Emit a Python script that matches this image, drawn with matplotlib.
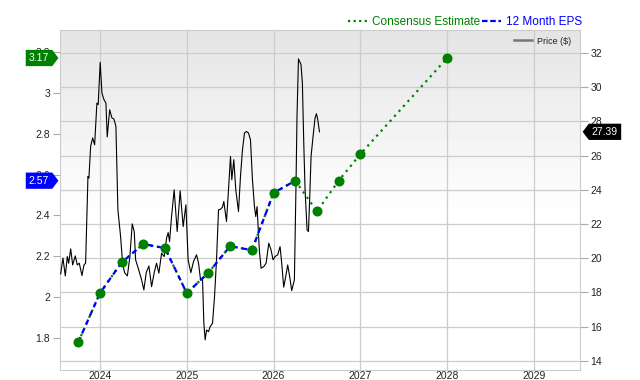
import matplotlib
matplotlib.use("Agg")
import matplotlib.pyplot as plt
import numpy as np
from matplotlib.path import Path
from matplotlib.lines import Line2D

plt.rcParams['font.family'] = ['Liberation Sans', 'DejaVu Sans']

# ---------------- data ----------------
price_t = [2023.548, 2023.574, 2023.601, 2023.624, 2023.640, 2023.663, 2023.686, 2023.716,
           2023.739, 2023.762, 2023.793, 2023.816, 2023.835, 2023.862, 2023.873, 2023.893,
           2023.916, 2023.939, 2023.965, 2023.980, 2024.003, 2024.023, 2024.046, 2024.069,
           2024.084, 2024.112, 2024.138, 2024.161, 2024.184, 2024.207, 2024.238, 2024.261,
           2024.284, 2024.316, 2024.345, 2024.372, 2024.395, 2024.411, 2024.441, 2024.480,
           2024.506, 2024.533, 2024.564, 2024.595, 2024.625, 2024.652, 2024.679, 2024.710,
           2024.740, 2024.768, 2024.786, 2024.802, 2024.825, 2024.855, 2024.890, 2024.924,
           2024.959, 2024.990, 2025.016, 2025.047, 2025.078, 2025.113, 2025.136, 2025.159,
           2025.182, 2025.197, 2025.212, 2025.228, 2025.251, 2025.269, 2025.297, 2025.320,
           2025.343, 2025.366, 2025.389, 2025.412, 2025.427, 2025.458, 2025.481, 2025.504,
           2025.519, 2025.542, 2025.565, 2025.596, 2025.619, 2025.642, 2025.665, 2025.688,
           2025.711, 2025.734, 2025.757, 2025.780, 2025.795, 2025.810, 2025.836, 2025.856,
           2025.887, 2025.914, 2025.945, 2025.971, 2025.994, 2026.017, 2026.048, 2026.075,
           2026.094, 2026.117, 2026.140, 2026.163, 2026.186, 2026.209, 2026.240, 2026.259,
           2026.270, 2026.287, 2026.316, 2026.332, 2026.348, 2026.363, 2026.386, 2026.402,
           2026.417, 2026.432, 2026.455, 2026.478, 2026.494, 2026.509, 2026.529]
price_v = [19.09, 20.01, 18.97, 20.10, 19.71, 20.55, 19.61, 20.14,
           19.61, 19.71, 18.99, 19.61, 19.71, 24.78, 24.69, 26.54,
           27.03, 26.63, 29.07, 28.98, 31.45, 29.66, 29.27, 29.07,
           27.09, 28.68, 28.20, 28.14, 27.71, 22.83, 21.27, 19.71,
           19.16, 18.97, 20.10, 22.01, 21.56, 19.91, 19.42, 18.74,
           18.15, 19.16, 19.55, 18.34, 19.16, 19.71, 19.13, 20.30,
           20.10, 21.18, 21.50, 20.98, 22.44, 24.00, 21.56, 23.94,
           21.85, 23.12, 19.91, 19.16, 19.81, 20.20, 19.71, 18.74,
           18.74, 16.20, 15.23, 15.81, 15.71, 16.00, 16.20, 17.76,
           19.91, 22.83, 22.87, 22.99, 23.32, 22.15, 24.00, 25.95,
           24.59, 25.76, 24.00, 22.73, 24.78, 26.34, 27.32, 27.41,
           27.32, 26.93, 24.59, 23.02, 22.44, 23.02, 20.49, 19.42,
           19.51, 19.71, 20.88, 20.49, 19.91, 20.10, 20.20, 20.68,
           19.71, 18.31, 18.93, 19.61, 18.93, 18.11, 18.74, 24.39,
           28.29, 31.65, 31.32, 30.24, 26.73, 24.00, 21.66, 21.56,
           23.61, 25.95, 27.12, 28.20, 28.45, 28.10, 27.39]

eps_t = [2023.75, 2024.0, 2024.25, 2024.5, 2024.75, 2025.0, 2025.25, 2025.5,
         2025.75, 2026.0, 2026.25]
eps_v = [1.78, 2.02, 2.17, 2.26, 2.24, 2.02, 2.12, 2.25, 2.23, 2.51, 2.57]

cons_t = [2026.25, 2026.5, 2026.75, 2027.0, 2028.0]
cons_v = [2.57, 2.42, 2.57, 2.70, 3.17]

year_ticks = [2024, 2025, 2026, 2027, 2028, 2029]
price_ticks = [14, 16, 18, 20, 22, 24, 26, 28, 30, 32]
eps_ticks = [1.8, 2.0, 2.2, 2.4, 2.6, 2.8, 3.0, 3.2]
eps_tick_labels = ['1.8', '2', '2.2', '2.4', '2.6', '2.8', '3', '3.2']

last_price = 27.39
last_eps = 2.57
last_cons = 3.17

GREEN = '#008000'
BLUE = '#0000ff'
GRID = '#cccccc'

# ---------------- figure ----------------
fig = plt.figure(figsize=(6.4, 3.8), dpi=100)
ax = fig.add_axes([60 / 640, 10 / 380, 520 / 640, 340 / 380])
axe = ax.twinx()

# gradient background
grad = np.concatenate([np.linspace(0.895, 1.0, 55), np.ones(45)])[:, None]
ax.imshow(grad, cmap='gray', vmin=0, vmax=1, extent=[0, 1, 0, 1],
          transform=ax.transAxes, aspect='auto', zorder=0, interpolation='bilinear')

ax.set_xlim(2023.54, 2029.53)
ax.set_ylim(13.47, 33.34)
axe.set_ylim(1.644, 3.307)

ax.set_xticks(year_ticks)
ax.set_xticklabels([str(y) for y in year_ticks])
ax.set_yticks(price_ticks)
ax.set_yticklabels([str(p) for p in price_ticks])
axe.set_yticks(eps_ticks)
axe.set_yticklabels(eps_tick_labels)

ax.yaxis.tick_right()
axe.yaxis.tick_left()

ax.grid(True, color=GRID, linewidth=0.9, zorder=1)
ax.set_axisbelow(True)
for s in ax.spines.values():
    s.set_color(GRID)
for s in axe.spines.values():
    s.set_visible(False)

ax.tick_params(axis='x', length=0, pad=0.5, labelsize=7.5, colors='#222222')
ax.tick_params(axis='y', length=6, width=0.8, color='#aaaaaa', pad=1.5,
               labelsize=7.5, labelcolor='#222222')
axe.tick_params(axis='y', length=5, width=0.8, color='#aaaaaa', pad=2,
                labelsize=7.5, labelcolor='#222222')

# price line
ax.plot(price_t, price_v, color='black', linewidth=0.8, zorder=3)

# EPS lines
axe.plot(eps_t, eps_v, color=GREEN, linestyle=(0, (1, 2)), linewidth=1.6, zorder=3)
axe.plot(eps_t, eps_v, color=BLUE, linestyle=(0, (2.5, 1.8)), linewidth=1.6, zorder=4)
axe.plot(cons_t, cons_v, color=GREEN, linestyle=(0, (1, 2)), linewidth=1.6, zorder=4)
axe.plot(eps_t, eps_v, linestyle='none', marker='o', markersize=6.2,
         markerfacecolor=GREEN, markeredgecolor=GREEN, zorder=5)
axe.plot(cons_t[1:], cons_v[1:], linestyle='none', marker='o', markersize=6.2,
         markerfacecolor=GREEN, markeredgecolor=GREEN, zorder=5)


# value tags
def tag_right(x0, y0, width, height, mutation_size):
    pad = 0.3 * mutation_size
    x0, y0, width, height = x0 - pad, y0 - pad, width + 2 * pad, height + 2 * pad
    tip = 0.38 * height
    return Path([(x0, y0), (x0 + width, y0), (x0 + width + tip, y0 + height / 2),
                 (x0 + width, y0 + height), (x0, y0 + height), (x0, y0)],
                [Path.MOVETO] + [Path.LINETO] * 4 + [Path.CLOSEPOLY])


def tag_left(x0, y0, width, height, mutation_size):
    pad = 0.3 * mutation_size
    x0, y0, width, height = x0 - pad, y0 - pad, width + 2 * pad, height + 2 * pad
    tip = 0.38 * height
    return Path([(x0, y0), (x0 + width, y0), (x0 + width, y0 + height),
                 (x0, y0 + height), (x0 - tip, y0 + height / 2), (x0, y0)],
                [Path.MOVETO] + [Path.LINETO] * 4 + [Path.CLOSEPOLY])


for val, col in [(last_cons, GREEN), (last_eps, BLUE)]:
    axe.annotate(f'{val:.2f}', xy=(0, val), xycoords=('axes fraction', 'data'),
                 xytext=(-21, 0), textcoords='offset pixels', ha='center', va='center',
                 fontsize=7.5, color='white', annotation_clip=False, zorder=10,
                 bbox=dict(boxstyle=tag_right, fc=col, ec='none'))

ax.annotate(f'{last_price:.2f}', xy=(1, last_price), xycoords=('axes fraction', 'data'),
            xytext=(25, 0), textcoords='offset pixels', ha='center', va='center',
            fontsize=7.5, color='white', annotation_clip=False, zorder=10,
            bbox=dict(boxstyle=tag_left, fc='black', ec='none'))

# legends
top_handles = [Line2D([], [], color=GREEN, linestyle=(0, (1, 1.5)), linewidth=1.6),
               Line2D([], [], color=BLUE, linestyle=(0, (2.5, 1.2)), linewidth=1.6)]
fig.legend(top_handles, ['Consensus Estimate', '12 Month EPS'], loc='center right',
           bbox_to_anchor=(582 / 640, 1 - 22 / 380), ncol=2, frameon=False,
           fontsize=8.5, labelcolor=[GREEN, BLUE], handlelength=1.6,
           handletextpad=0.4, columnspacing=0.2, borderpad=0, borderaxespad=0)

price_handle = [Line2D([], [], color='#777777', linewidth=1.8)]
axe.legend(price_handle, ['Price ($)'], loc='center right',
           bbox_to_anchor=(0.983, 1 - 11 / 340), frameon=False, fontsize=6.5,
           handlelength=2.0, handletextpad=0.6, borderpad=0, borderaxespad=0,
           labelcolor='#222222')

fig.savefig('out.png', dpi=100)
